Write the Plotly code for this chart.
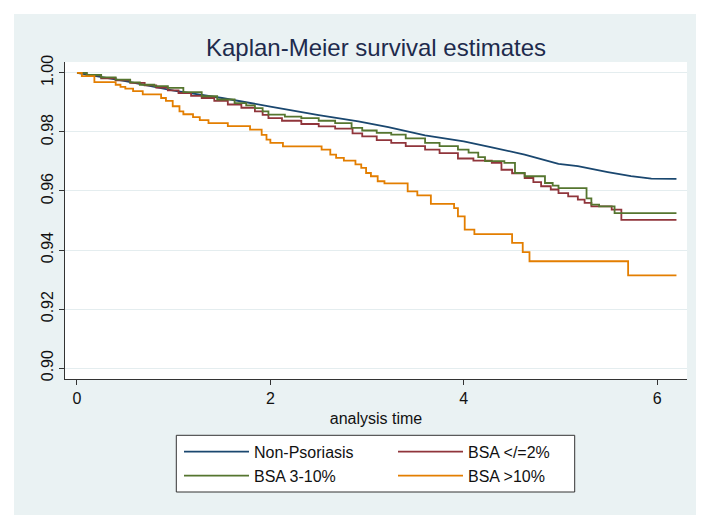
import plotly.graph_objects as go

# ---------------- data ----------------
non_t = [0, 0.5, 1.0, 1.5, 2.0, 2.5, 2.91, 3.22, 3.6, 4.0, 4.29, 4.63, 4.98, 5.18, 5.49, 5.73, 5.94, 6.2]
non_s = [1.0, 0.9972, 0.9940, 0.9915, 0.9886, 0.9857, 0.9836, 0.9816, 0.9788, 0.9768, 0.9748, 0.9723, 0.9692, 0.9684, 0.9664, 0.9650, 0.9642, 0.9641]

low_t = [0, 0.1, 0.25, 0.4, 0.55, 0.7, 0.82, 0.94, 1.05, 1.18, 1.29, 1.42, 1.56, 1.7, 1.84, 1.92, 1.98,
         2.12, 2.32, 2.5, 2.67, 2.85, 2.95, 3.1, 3.25, 3.4, 3.6, 3.75, 3.94, 4.1, 4.29, 4.39, 4.5, 4.63,
         4.72, 4.8, 4.9, 4.98, 5.08, 5.18, 5.25, 5.32, 5.53, 5.63, 6.2]
low_s = [1.0, 0.9992, 0.9982, 0.9975, 0.9966, 0.9958, 0.9950, 0.9941, 0.9932, 0.9922, 0.9915, 0.9905, 0.9893, 0.9882, 0.9870, 0.9858, 0.9847,
         0.9838, 0.9827, 0.9819, 0.9811, 0.9795, 0.9785, 0.9772, 0.9763, 0.9752, 0.9740, 0.9728, 0.9710, 0.9703, 0.9695, 0.9672, 0.9660, 0.9644,
         0.9630, 0.9616, 0.9605, 0.9593, 0.9582, 0.9571, 0.9560, 0.9548, 0.9537, 0.9502, 0.9502]

mid_t = [0, 0.1, 0.25, 0.4, 0.55, 0.65, 0.8, 0.94, 1.1, 1.29, 1.45, 1.63, 1.75, 1.84, 1.92, 1.98,
         2.15, 2.32, 2.5, 2.67, 2.84, 2.95, 3.1, 3.25, 3.4, 3.6, 3.75, 3.94, 4.05, 4.15, 4.22, 4.42, 4.53,
         4.63, 4.84, 4.92, 4.98, 5.27, 5.32, 5.40, 5.56, 6.2]
mid_s = [1.0, 0.9993, 0.9985, 0.9977, 0.9968, 0.9960, 0.9955, 0.9949, 0.9935, 0.9921, 0.9910, 0.9898, 0.9890, 0.9881, 0.9870, 0.9859,
         0.9852, 0.9847, 0.9838, 0.9830, 0.9814, 0.9805, 0.9797, 0.9791, 0.9778, 0.9763, 0.9752, 0.9740, 0.9730, 0.9715, 0.9701, 0.9695, 0.9661,
         0.9650, 0.9627, 0.9618, 0.9610, 0.9575, 0.9554, 0.9548, 0.9525, 0.9525]

high_t = [0, 0.05, 0.18, 0.40, 0.45, 0.50, 0.58, 0.68, 0.87, 0.92, 0.99, 1.06, 1.10, 1.20, 1.27, 1.36, 1.56, 1.79, 1.91, 1.96,
          2.00, 2.13, 2.53, 2.62, 2.68, 2.76, 2.88, 2.94, 2.99, 3.04, 3.11, 3.18, 3.42, 3.52, 3.66, 3.90, 3.94, 4.01, 4.11, 4.50,
          4.61, 4.68, 5.70, 6.20]
high_s = [1.000, 0.9989, 0.9969, 0.9960, 0.9953, 0.9947, 0.9938, 0.9927, 0.9915, 0.9905, 0.9887, 0.9870, 0.9860, 0.9850, 0.9840, 0.9830, 0.9820, 0.9808, 0.9790, 0.9774,
          0.9763, 0.9751, 0.9740, 0.9723, 0.9712, 0.9703, 0.9690, 0.9678, 0.9661, 0.9650, 0.9633, 0.9626, 0.9599, 0.9585, 0.9556, 0.9542, 0.9514, 0.9469, 0.9454, 0.9424,
          0.9393, 0.9362, 0.9314, 0.9314]

series_names = ["Non-Psoriasis", "BSA </=2%", "BSA 3-10%", "BSA >10%"]
x_ticks = [0, 2, 4, 6]
y_ticks = [0.90, 0.92, 0.94, 0.96, 0.98, 1.00]

# ---------------- styling ----------------
colors = ["#1A476F", "#90353B", "#55752F", "#E37E00"]
shapes_line = ["linear", "hv", "hv", "hv"]
FONT = "Liberation Sans, Arial, Helvetica, sans-serif"
BG = "#EAF2F3"

# geometry helpers (pixel -> paper / container)
L, R, T, B = 57, 25, 54, 144
W, H = 704, 515
PW, PH = W - L - R, H - T - B
def px(xp): return (xp - L) / PW
def py(yp): return (H - B - yp) / PH
def cx(xp): return xp / W
def cy(yp): return 1 - yp / H

fig = go.Figure()
data = [(non_t, non_s), (low_t, low_s), (mid_t, mid_s), (high_t, high_s)]
legend_ids = ["legend", "legend2", "legend3", "legend4"]
for i, ((t, s), name) in enumerate(zip(data, series_names)):
    fig.add_trace(go.Scatter(
        x=t, y=s, mode="lines", name=name,
        line=dict(color=colors[i], width=1.8, shape=shapes_line[i]),
        legend=legend_ids[i], showlegend=True,
    ))

# legend positions: left column (items 0,2), right column (items 1,3)
leg_x = [cx(171), cx(385), cx(171), cx(385)]
leg_y = [cy(443.7), cy(443.7), cy(467.7), cy(467.7)]
leg_common = dict(font=dict(family=FONT, size=16, color="#111111"), bgcolor="rgba(0,0,0,0)",
                  borderwidth=0, itemwidth=65, xanchor="left", yanchor="middle",
                  xref="container", yref="container",
                  tracegroupgap=0, itemclick=False)
legends = {}
for i, lid in enumerate(legend_ids):
    legends[lid] = dict(x=leg_x[i], y=leg_y[i], **leg_common)

fig.update_layout(
    width=W, height=H,
    margin=dict(l=L, r=R, t=T, b=B, autoexpand=False),
    paper_bgcolor=BG, plot_bgcolor="white",
    font=dict(family=FONT, size=16, color="#111111"),
    title=dict(text="Kaplan-Meier survival estimates", x=cx(368), xref="container", xanchor="center",
               y=cy(40), yref="container", yanchor="middle",
               font=dict(family=FONT, size=24, color="#1E2B4D")),
    xaxis=dict(range=[-0.124, 6.309], tickvals=x_ticks, ticktext=[str(v) for v in x_ticks],
               showgrid=False, zeroline=False, showline=True, linecolor="#333333", linewidth=1,
               ticks="outside", ticklen=5, tickcolor="#333333", automargin=False,
               title=dict(text="analysis time", standoff=6, font=dict(size=16)),
               tickfont=dict(size=16)),
    yaxis=dict(range=[0.8963, 1.0037], tickvals=y_ticks, tickformat=".2f",
               showgrid=True, gridcolor="#E4EDEF", gridwidth=1, zeroline=False,
               showline=True, linecolor="#333333", linewidth=1, automargin=False,
               ticks="outside", ticklen=5, tickcolor="#333333", tickangle=-90,
               tickfont=dict(size=16)),
    shapes=[
        # white outer frame
        dict(type="rect", xref="paper", yref="paper",
             x0=px(0), x1=px(W), y0=py(H), y1=py(0),
             line=dict(color="white", width=12), fillcolor="rgba(0,0,0,0)", layer="above"),
        # legend box
        dict(type="rect", xref="paper", yref="paper",
             x0=px(168.3), x1=px(566.7), y0=py(484), y1=py(427.3),
             line=dict(color="#333333", width=1), fillcolor="white", layer="below"),
    ],
    **legends,
)

fig.write_html("out.html")
